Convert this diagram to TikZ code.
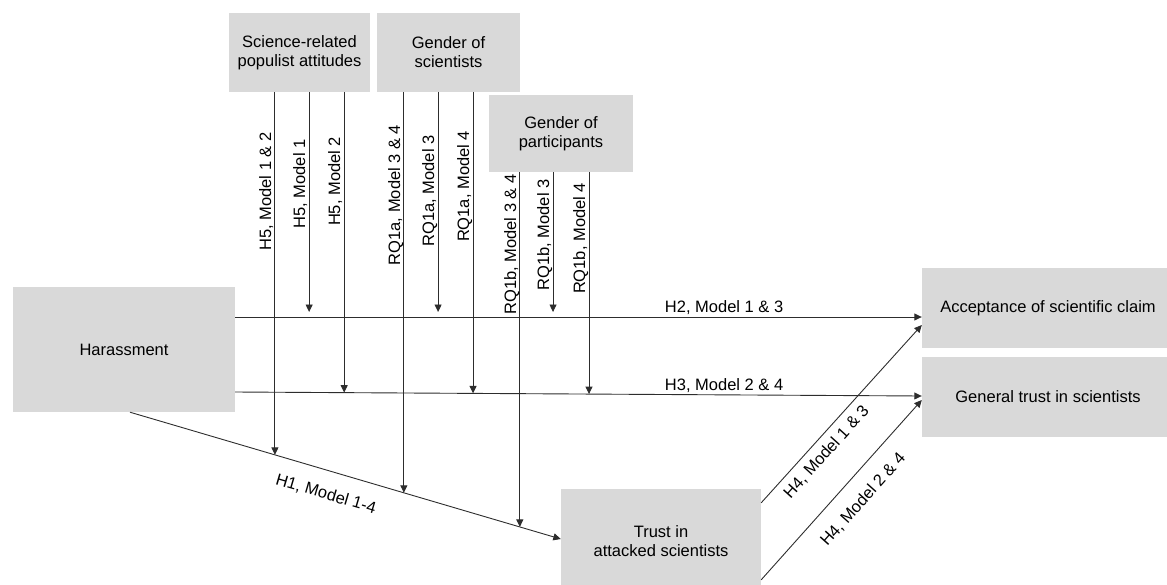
\documentclass[tikz,border=0pt]{standalone}
\usepackage{fontspec}
\setmainfont{Liberation Sans}
\usetikzlibrary{positioning,arrows.meta}
\definecolor{boxgray}{RGB}{217,217,217}
\definecolor{linegray}{RGB}{45,45,45}
\newcommand{\diagfont}{\fontsize{16.5}{19}\selectfont}

\begin{document}
\begin{tikzpicture}[x=1pt,y=-1pt,
	varbox/.style={fill=boxgray,align=center,inner sep=0pt,font=\diagfont},
	link/.style={draw=linegray,line width=0.9pt,-{Triangle[length=7.5pt,width=7pt]}},
	lbl/.style={font=\diagfont,inner sep=1.5pt},
	vlbl/.style={font=\diagfont,inner sep=0pt,rotate=90,anchor=base}
	]
	\useasboundingbox (0,0) rectangle (1167,584);
	\clip (0,0) rectangle (1167,584);

	% moderators
	\node[varbox,minimum width=141pt,minimum height=79pt] (popul) at (299.5,52.5) {Science-related\\populist attitudes};
	\node[varbox,minimum width=143pt,minimum height=79pt] (gsci) at (448.5,52.5) {Gender of\\scientists};
	\node[varbox,minimum width=144pt,minimum height=77pt] (gpart) at (561,133.5) {Gender of\\participants};

	% variables
	\node[varbox,minimum width=222pt,minimum height=125pt] (harass) at (124,349.5) {Harassment};
	\node[varbox,minimum width=200pt,minimum height=104pt] (trust) at (661,541) {Trust in\\attacked scientists};
	\node[varbox,minimum width=252pt,minimum height=80pt] (accept) at (1048,308) {Acceptance of scientific claim};
	\node[varbox,minimum width=252pt,minimum height=80pt] (general) at (1048,397) {General trust in scientists};

	% direct paths
	\draw[link] ([yshift=32.5pt]harass.east) --
		coordinate[pos=0.1077] (a1) coordinate[pos=0.2955] (a2) coordinate[pos=0.4629] (a3)
		node[lbl,above,pos=0.712] (lh2) {H2, Model 1 \& 3} ([yshift=-9pt]accept.west);
	\draw[link] ([yshift=-42.5pt]harass.east) --
		coordinate[pos=0.1587] (b1) coordinate[pos=0.3464] (b2) coordinate[pos=0.5153] (b3)
		node[lbl,above,pos=0.712] (lh3) {H3, Model 2 \& 4} ([yshift=1pt]general.west);
	\draw[link] ([xshift=6pt]harass.south) --
		coordinate[pos=0.3364] (c1) coordinate[pos=0.6357] (c2) coordinate[pos=0.9049] (c3)
		node[lbl,sloped,below,pos=0.47,inner ysep=16pt] (lh1) {H1, Model 1-4} ([yshift=2pt]trust.west);
	\draw[link] ([yshift=-14pt]trust.north east) --
		node[lbl,sloped,below,pos=0.34,inner ysep=7pt] (lh4a) {H4, Model 1 \& 3} ([yshift=-17pt]accept.west);
	\draw[link] ([yshift=-91pt]trust.north east) --
		node[lbl,sloped,below,pos=0.53,inner ysep=15pt] (lh4b) {H4, Model 2 \& 4} ([yshift=-3pt]general.west);

	% moderating paths
	\draw[link] (popul.south -| c1) -- (c1);
	\draw[link,shorten >=5pt] (popul.south -| a1) -- (a1);
	\draw[link] (popul.south -| b1) -- (b1);
	\draw[link] (gsci.south -| c2) -- (c2);
	\draw[link,shorten >=5pt] (gsci.south -| a2) -- (a2);
	\draw[link] (gsci.south -| b2) -- (b2);
	\draw[link] (gpart.south -| c3) -- (c3);
	\draw[link,shorten >=5pt] (gpart.south -| a3) -- (a3);
	\draw[link] (gpart.south -| b3) -- (b3);

	\node[vlbl] (l1) at (271,191.5) {H5, Model 1 \& 2};
	\node[vlbl] (l2) at (305,184) {H5, Model 1};
	\node[vlbl] (l3) at (340,181.5) {H5, Model 2};
	\node[vlbl] (l4) at (400,195) {RQ1a, Model 3 \& 4};
	\node[vlbl] (l5) at (434,191) {RQ1a, Model 3};
	\node[vlbl] (l6) at (469,186.5) {RQ1a, Model 4};
	\node[vlbl] (l7) at (516,244.5) {RQ1b, Model 3 \& 4};
	\node[vlbl] (l8) at (549,235) {RQ1b, Model 3};
	\node[vlbl] (l9) at (585,238.5) {RQ1b, Model 4};
\end{tikzpicture}
\end{document}
